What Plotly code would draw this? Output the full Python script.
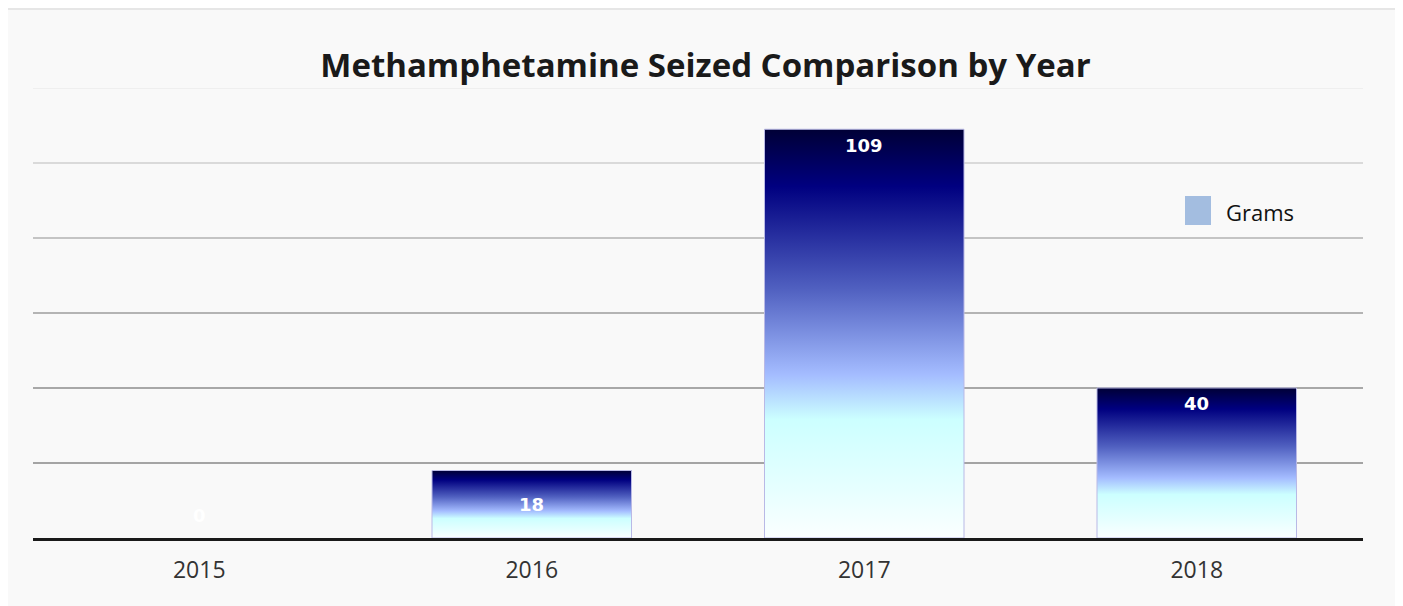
import plotly.graph_objects as go

years = ["2015", "2016", "2017", "2018"]
grams = [0, 18, 109, 40]
grid_vals = [20, 40, 60, 80, 100, 120]
grid_colors = ["#a4a4a4", "#a8a8a8", "#b4b4b4", "#c4c4c4", "#dadada", "#efefef"]

bar_width = 0.6
gradient = [
    [0.0, "#fbffff"],
    [0.12, "#e6ffff"],
    [0.29, "#ccffff"],
    [0.40, "#a4bcff"],
    [0.61, "#5060c0"],
    [0.86, "#000080"],
    [1.0, "#000036"],
]

# page offset compensation (browser body margin of 8px)
OFF = 8
L, T = 33 - OFF, 88 - OFF
PW, PH = 1330, 450

fig = go.Figure()

for i, (yr, v) in enumerate(zip(years, grams)):
    x0, x1 = i - bar_width / 2, i + bar_width / 2
    fig.add_trace(go.Scatter(
        x=[x0, x1, x1, x0, x0],
        y=[0, 0, v, v, 0],
        mode="lines",
        fill="toself",
        fillgradient=dict(type="vertical", colorscale=gradient),
        line=dict(color="#b9b9e6", width=1 if v > 0 else 0),
        showlegend=False,
        hoverinfo="skip",
        name=yr,
    ))
    if v == 0:
        label_y = 6
    elif v < 25:
        label_y = v / 2
    else:
        label_y = v - 4.2
    fig.add_annotation(
        x=i, y=label_y, xref="x", yref="y", text=str(v), showarrow=False,
        font=dict(family="DejaVu Sans", size=18, color="white", weight="bold"),
        yanchor="middle",
    )

for gv, gc in zip(grid_vals, grid_colors):
    fig.add_shape(type="line", xref="paper", yref="y", x0=0, x1=1, y0=gv, y1=gv,
                  line=dict(color=gc, width=2), layer="below")

def px_x(p):
    return (p - 33) / PW

def px_y(p):
    return (538 - p) / PH

# legend swatch
fig.add_shape(type="rect", xref="paper", yref="paper",
              x0=px_x(1185), x1=px_x(1211), y0=px_y(225), y1=px_y(196),
              fillcolor="#a3bde0", line=dict(width=0))
fig.add_annotation(xref="paper", yref="paper", x=px_x(1224), y=px_y(212),
                   text="Grams", showarrow=False, xanchor="left", yanchor="middle",
                   font=dict(family="Open Sans", size=22, color="#111111"))

# outer border
fig.add_shape(type="rect", xref="paper", yref="paper",
              x0=px_x(4), x1=px_x(1397), y0=px_y(620), y1=px_y(9),
              line=dict(color="#e6e6e6", width=2), fillcolor="rgba(0,0,0,0)", layer="below")

fig.update_layout(
    width=L + PW + 40, height=T + PH + 68,
    margin=dict(l=L, r=40, t=T, b=68),
    paper_bgcolor="#f9f9f9",
    plot_bgcolor="#f9f9f9",
    title=dict(text="<b>Methamphetamine Seized Comparison by Year</b>",
               x=0.5, xanchor="center", y=1 - (65 - OFF) / (T + PH + 68), yanchor="middle",
               font=dict(family="Open Sans", size=33, color="#1a1a1a")),
    xaxis=dict(range=[-0.5, 3.5], tickvals=list(range(len(years))), ticktext=years,
               showgrid=False, zeroline=False, showline=True, linecolor="#1a1a1a",
               linewidth=3, ticks="", ticklabelstandoff=9,
               tickfont=dict(family="Open Sans", size=23, color="#333333")),
    yaxis=dict(range=[0, 120], showgrid=False, zeroline=False, showticklabels=False,
               ticks=""),
    showlegend=False,
)

fig.write_html("out.html")
